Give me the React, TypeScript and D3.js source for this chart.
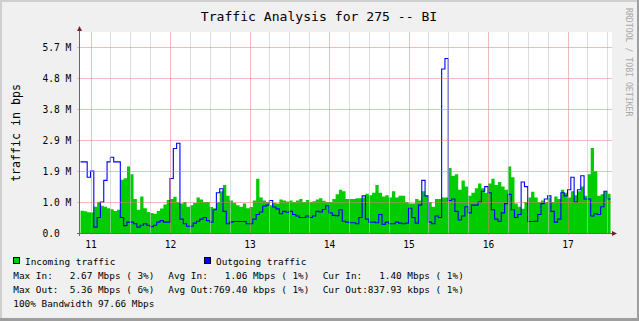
import React from 'react';
import * as d3 from 'd3';

const W = 639;
const H = 321;
const titleText = 'Traffic Analysis for 275 -- BI';
const yAxisLabel = 'traffic in bps';
const watermark = 'RRDTOOL / TOBI OETIKER';

// hourly samples, hour 0 = start of day "11"
const startHour = -3;
const dayLabels = ['11', '12', '13', '14', '15', '16', '17'];
const yTickValues = [0, 1, 2, 3, 4, 5, 6];
const yTickLabels = ['0.0', '1.0 M', '1.9 M', '2.9 M', '3.8 M', '4.8 M', '5.7 M'];

// values in 10^6 bps
const incoming = [
  0.72, 0.70, 0.67, 0.66, 0.85, 1.0, 0.88, 0.85, 0.8, 0.77,
  0.71, 0.75, 1.72, 1.77, 2.15, 1.9, 1.1, 0.75, 1.18, 0.8,
  0.68, 0.65, 0.62, 0.71, 0.79, 0.92, 1.07, 1.1, 1.17, 1.0,
  0.95, 1.0, 0.85, 0.9, 0.97, 1.15, 1.08, 1.0, 1.0, 0.84,
  0.8, 1.0, 1.35, 1.55, 1.2, 1.05, 0.98, 0.9, 0.85, 0.95,
  0.8, 0.84, 1.05, 1.75, 1.15, 1.05, 1.0, 0.9, 0.98, 0.95,
  1.08, 1.05, 1.02, 1.05, 1.0, 1.05, 1.1, 1.0, 1.07, 1.0,
  1.03, 1.08, 1.12, 1.04, 1.0, 1.0, 1.1, 1.25, 1.4, 1.35,
  1.1, 1.1, 1.1, 1.12, 1.12, 1.15, 1.27, 1.22, 1.3, 1.55,
  1.3, 1.18, 1.22, 1.15, 1.35, 1.15, 1.2, 1.2, 1.0, 0.95,
  0.95, 1.1, 1.05, 1.35, 1.2, 1.0, 0.85, 1.1, 1.1, 1.15,
  1.15, 2.1, 1.85, 1.9, 1.4, 1.7, 1.5, 1.2, 1.3, 1.45,
  1.6, 1.45, 1.3, 1.6, 1.75, 1.55, 1.65, 1.5, 1.4, 2.15,
  1.8, 0.95, 0.85, 0.78, 1.0, 1.15, 1.33, 1.15, 1.0, 1.05,
  1.0, 1.15, 1.0, 1.18, 1.1, 1.4, 1.3, 1.15, 1.35, 1.22,
  1.35, 1.5, 1.2, 1.9, 2.75, 2.0, 1.2, 1.25, 1.33, 1.27,
];

const outgoing = [
  2.3, 2.3, 1.8, 2.0, 0.19, 0.5, 1.0, 1.7, 2.3, 2.45,
  2.3, 2.3, 0.5, 0.24, 0.35, 0.35, 0.3, 0.19, 0.25, 0.3,
  0.25, 0.2, 0.25, 0.35, 0.4, 0.35, 0.35, 1.76, 2.73, 2.9,
  0.45, 0.3, 0.22, 0.22, 0.32, 0.38, 0.45, 0.5, 0.4, 0.35,
  0.75, 1.3, 1.43, 0.7, 0.3, 0.35, 0.37, 0.37, 0.37, 0.37,
  0.3, 0.3, 0.45, 0.6, 0.68, 0.87, 0.9, 1.05, 0.84, 0.78,
  0.62, 0.7, 0.67, 0.7, 0.6, 0.55, 0.5, 0.5, 0.55, 0.5,
  0.55, 0.7, 0.68, 0.76, 0.88, 0.65, 0.57, 0.56, 0.75, 0.38,
  0.35, 0.33, 0.33, 0.3, 0.5, 1.2, 0.45, 0.35, 0.35, 0.33,
  0.6, 0.28, 0.35, 0.3, 0.3, 0.35, 0.32, 0.3, 0.32, 0.8,
  0.5, 0.32, 0.9, 1.7, 1.2, 0.35, 0.3, 0.55, 0.5, 5.3,
  5.64, 1.05, 1.1, 0.7, 0.42, 0.55, 0.85, 0.65, 0.9, 0.9,
  1.0, 1.35, 1.5, 1.3, 0.75, 0.45, 0.38, 0.65, 0.95, 1.25,
  0.75, 0.5, 0.6, 1.65, 1.5, 0.37, 0.37, 0.38, 0.6, 0.95,
  1.1, 1.2, 0.7, 0.35, 0.45, 1.3, 1.2, 1.4, 1.8, 1.0,
  1.4, 1.85, 1.1, 1.1, 0.55, 0.62, 0.6, 0.85, 1.35, 1.1,
];

const legendSeries = ['Incoming traffic', 'Outgoing traffic'];
const legendColors = ['#00cc00', '#0000ff'];
const legendRows = [
  ['Max In:   2.67 Mbps ( 3%)', 'Avg In:   1.06 Mbps ( 1%)', 'Cur In:   1.40 Mbps ( 1%)'],
  ['Max Out:  5.36 Mbps ( 6%)', 'Avg Out:769.40 kbps ( 1%)', 'Cur Out:837.93 kbps ( 1%)'],
  ['100% Bandwidth 97.66 Mbps'],
];

const FONT = '"DejaVu Sans Mono", "Liberation Mono", monospace';

type Pt = [number, number];

export default function App() {
  const x = d3.scaleLinear().domain([-3.17, 157.43]).range([80, 612]);
  const y = d3.scaleLinear().domain([0, 6.5]).range([233, 31.9]);

  const toPts = (arr: number[]): Pt[] => {
    const p: Pt[] = arr.map((v, i) => [startHour + i, v] as Pt);
    p.push([startHour + arr.length, arr[arr.length - 1]]);
    return p;
  };

  const area = d3
    .area<Pt>()
    .x((d) => x(d[0]))
    .y0(y(0))
    .y1((d) => y(d[1]))
    .curve(d3.curveStepAfter);
  const line = d3
    .line<Pt>()
    .x((d) => x(d[0]))
    .y((d) => y(d[1]))
    .curve(d3.curveStepAfter);

  const [xMin, xMax] = x.range();
  const hMax = x.domain()[1];
  const minorHours = d3.range(0, hMax, 6).filter((h) => h % 24 !== 0);
  const majorHours = dayLabels.map((_, i) => i * 24);
  const px = (v: number) => Math.round(v) + 0.5;

  const yTop = y.range()[1];
  const yBase = y(0);

  const colX = [13.3, 168.3, 322.7];

  return (
    <div style={{ position: 'absolute', left: 0, top: 0 }}>
      <svg width={W} height={H} style={{ display: 'block' }} fontFamily={FONT}>
        {/* background + 3D frame */}
        <rect x={0} y={0} width={W} height={H} fill="#f0f0f0" />
        <rect x={0} y={0} width={W} height={2} fill="#cfcfcf" />
        <rect x={0} y={0} width={2} height={H} fill="#cfcfcf" />
        <rect x={0} y={H - 3} width={W} height={3} fill="#9e9e9e" />
        <rect x={W - 2} y={0} width={2} height={H} fill="#9e9e9e" />

        {/* canvas */}
        <rect x={xMin} y={yTop} width={xMax - xMin} height={yBase - yTop} fill="#ffffff" />

        {/* data */}
        <path d={area(toPts(incoming)) || ''} fill="#00cc00" />
        <path d={line(toPts(outgoing)) || ''} fill="none" stroke="#0000ff" strokeWidth={1.1} />

        {/* grid drawn on top, semi transparent */}
        {minorHours.map((h) => (
          <line
            key={'mi' + h}
            x1={px(x(h))}
            x2={px(x(h))}
            y1={yTop}
            y2={yBase + 1}
            stroke="rgba(200,200,200,0.6)"
            strokeWidth={1}
          />
        ))}
        {majorHours.map((h) => (
          <line
            key={'ma' + h}
            x1={px(x(h))}
            x2={px(x(h))}
            y1={yTop}
            y2={yBase + 2}
            stroke="rgba(230,120,120,0.5)"
            strokeWidth={1}
          />
        ))}
        {yTickValues
          .filter((v) => v > 0)
          .map((v) => (
            <line
              key={'hy' + v}
              x1={xMin - 3}
              x2={xMax}
              y1={px(y(v))}
              y2={px(y(v))}
              stroke="rgba(230,120,120,0.5)"
              strokeWidth={1}
            />
          ))}

        {/* axes */}
        <line x1={79.5} x2={79.5} y1={yTop - 4} y2={yBase + 3} stroke="#666666" strokeWidth={1} />
        <line x1={xMin - 3} x2={xMax + 1} y1={yBase + 0.5} y2={yBase + 0.5} stroke="#666666" strokeWidth={1} />
        <path
          d={`M${79.5},${yTop - 6} L${77},${yTop - 1} L${82},${yTop - 1} Z`}
          fill="#801f1f"
        />
        <path
          d={`M${xMax + 5},${yBase + 0.5} L${xMax},${yBase - 2} L${xMax},${yBase + 3} Z`}
          fill="#801f1f"
        />

        {/* y tick labels */}
        {yTickValues.map((v, i) => (
          <text
            key={'yl' + v}
            x={42.5}
            y={y(v) + 3.6}
            fontSize={9.6}
            fill="#000"
            xmlSpace="preserve"
            style={{ whiteSpace: 'pre' }}
          >
            {yTickLabels[i]}
          </text>
        ))}

        {/* x tick labels */}
        {majorHours.map((h, i) => (
          <text key={'xl' + h} x={x(h) + 0.5} y={247.5} fontSize={9.6} textAnchor="middle" fill="#000">
            {dayLabels[i]}
          </text>
        ))}

        {/* title */}
        <text x={319} y={20.7} fontSize={13.1} textAnchor="middle" fill="#000" xmlSpace="preserve" style={{ whiteSpace: 'pre' }}>
          {titleText}
        </text>

        {/* y axis label */}
        <text
          transform={`translate(19.5, ${133}) rotate(-90)`}
          fontSize={11.6}
          textAnchor="middle"
          fill="#000"
        >
          {yAxisLabel}
        </text>

        {/* watermark */}
        <text transform="translate(625.5, 8) rotate(90)" fontSize={8.2} fill="#a8a8a8">
          {watermark}
        </text>

        {/* legend */}
        {legendSeries.map((s, i) => {
          const lx = i === 0 ? 13.5 : 204.5;
          return (
            <g key={s}>
              <rect x={lx} y={257.5} width={6} height={6} fill={legendColors[i]} stroke="#000" strokeWidth={1} />
              <text x={lx + 11.5} y={264.6} fontSize={9.4} fill="#000">
                {s}
              </text>
            </g>
          );
        })}
        {legendRows.map((row, r) =>
          row.map((cell, c) => (
            <text
              key={'lg' + r + c}
              x={colX[c]}
              y={278.6 + r * 14}
              fontSize={9.4}
              fill="#000"
              xmlSpace="preserve"
              style={{ whiteSpace: 'pre' }}
            >
              {cell}
            </text>
          ))
        )}
      </svg>
    </div>
  );
}
